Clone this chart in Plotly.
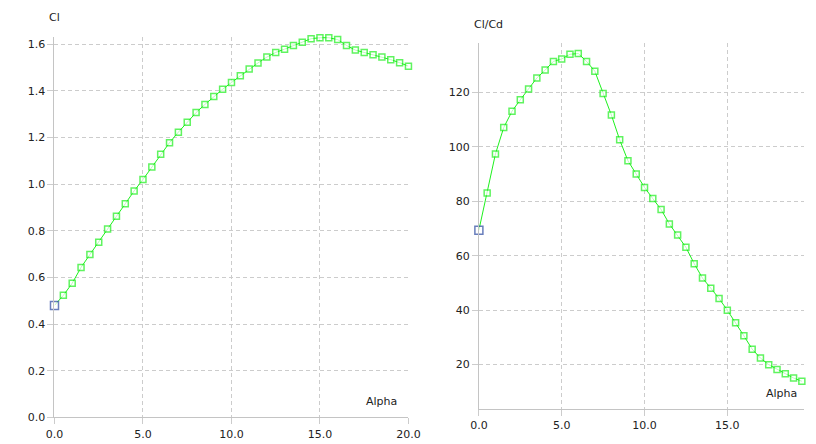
import plotly.graph_objects as go

# ---- data ----
alpha_cl = [0.0, 0.5, 1.0, 1.5, 2.0, 2.5, 3.0, 3.5, 4.0, 4.5, 5.0, 5.5, 6.0, 6.5, 7.0,
            7.5, 8.0, 8.5, 9.0, 9.5, 10.0, 10.5, 11.0, 11.5, 12.0, 12.5, 13.0, 13.5,
            14.0, 14.5, 15.0, 15.5, 16.0, 16.5, 17.0, 17.5, 18.0, 18.5, 19.0, 19.5, 20.0]
cl = [0.480, 0.523, 0.575, 0.643, 0.698, 0.751, 0.808, 0.862, 0.916, 0.971, 1.020,
      1.074, 1.128, 1.178, 1.223, 1.266, 1.307, 1.342, 1.376, 1.407, 1.436, 1.465,
      1.494, 1.520, 1.545, 1.565, 1.579, 1.595, 1.609, 1.624, 1.628, 1.628, 1.620,
      1.595, 1.575, 1.565, 1.555, 1.545, 1.534, 1.521, 1.506]

alpha_clcd = [0.0, 0.5, 1.0, 1.5, 2.0, 2.5, 3.0, 3.5, 4.0, 4.5, 5.0, 5.5, 6.0, 6.5,
              7.0, 7.5, 8.0, 8.5, 9.0, 9.5, 10.0, 10.5, 11.0, 11.5, 12.0, 12.5, 13.0,
              13.5, 14.0, 14.5, 15.0, 15.5, 16.0, 16.5, 17.0, 17.5, 18.0, 18.5, 19.0, 19.5]
clcd = [69.4, 83.1, 97.4, 107.1, 113.1, 117.3, 121.3, 125.3, 128.2, 131.4, 132.3,
        134.0, 134.3, 131.4, 127.8, 119.6, 111.7, 102.6, 94.9, 90.0, 85.1, 81.0,
        77.0, 71.7, 67.6, 63.1, 57.1, 51.8, 48.1, 44.3, 40.0, 35.4, 30.6, 25.7,
        22.4, 20.0, 18.2, 16.7, 15.1, 13.9]

x_ticks = [0, 5, 10, 15, 20]
x_ticklabels = ["0.0", "5.0", "10.0", "15.0", "20.0"]
cl_ticks = [0.0, 0.2, 0.4, 0.6, 0.8, 1.0, 1.2, 1.4, 1.6]
cl_ticklabels = ["0.0", "0.2", "0.4", "0.6", "0.8", "1.0", "1.2", "1.4", "1.6"]
clcd_ticks = [20, 40, 60, 80, 100, 120]

GREEN = "#1ef01e"
BLUE = "#2a48a0"
GRID = "#cccccc"
AXIS = "#c4c4c4"
FONT = dict(family="DejaVu Sans", size=11, color="#222222")

W, H = 816, 444


def marker_colors(n):
    return [BLUE] + [GREEN] * (n - 1)


def marker_sizes(n):
    return [8] + [6] * (n - 1)


fig = go.Figure()
for xs, ys, xa, ya in [(alpha_cl, cl, "x", "y"), (alpha_clcd, clcd, "x2", "y2")]:
    fig.add_trace(go.Scatter(
        x=xs, y=ys, mode="lines+markers", xaxis=xa, yaxis=ya,
        line=dict(color=GREEN, width=1),
        marker=dict(symbol="square", size=marker_sizes(len(ys)),
                    color="white",
                    line=dict(width=1.5, color=marker_colors(len(ys)))),
        cliponaxis=False, showlegend=False, hoverinfo="x+y"))


# pixel geometry helpers
def fx(px):
    return px / W


def fy(py):
    return (H - py) / H


common_x = dict(tickvals=x_ticks, ticktext=x_ticklabels, showgrid=True,
                gridcolor=GRID, griddash="4px,3px", gridwidth=1,
                showline=True, linecolor=AXIS, linewidth=1,
                ticks="outside", ticklen=6, tickcolor=GRID, tickfont=FONT,
                zeroline=False, fixedrange=True)
common_y = dict(showgrid=True, gridcolor=GRID, griddash="4px,3px", gridwidth=1,
                showline=True, linecolor=AXIS, linewidth=1,
                ticks="outside", ticklen=6, tickcolor=GRID, tickfont=FONT,
                zeroline=False, fixedrange=True)

left_y_top = 1.632
fig.update_layout(
    xaxis=dict(domain=[fx(46.7), fx(410)], range=[0, 20], anchor="y",
               **common_x),
    yaxis=dict(domain=[fy(424), fy(424 - left_y_top * 236.9)],
               range=[0, left_y_top], anchor="x",
               tickvals=cl_ticks, ticktext=cl_ticklabels, **common_y),
    xaxis2=dict(domain=[fx(482.3), 1.0], range=[0, (816 - 482.3) / 17.0],
                anchor="y2", **common_x),
    yaxis2=dict(domain=[fy(415.7), fy(43.3)], range=[3.65, 138.3],
                anchor="x2", tickvals=clcd_ticks, **common_y),
)

fig.update_layout(
    width=W, height=H, margin=dict(l=0, r=0, t=0, b=0),
    paper_bgcolor="white", plot_bgcolor="white",
    font=FONT, showlegend=False,
    annotations=[
        dict(text="Cl", x=fx(39), y=fy(18), xref="paper", yref="paper",
             xanchor="left", yanchor="middle", showarrow=False, font=FONT),
        dict(text="Cl/Cd", x=fx(475), y=fy(25), xref="paper", yref="paper",
             xanchor="left", yanchor="middle", showarrow=False, font=FONT),
        dict(text="Alpha", x=fx(400), y=fy(408), xref="paper", yref="paper",
             xanchor="right", yanchor="middle", showarrow=False, font=FONT),
        dict(text="Alpha", x=fx(811), y=fy(400), xref="paper", yref="paper",
             xanchor="right", yanchor="middle", showarrow=False, font=FONT),
    ],
)

fig.write_html("out.html")
